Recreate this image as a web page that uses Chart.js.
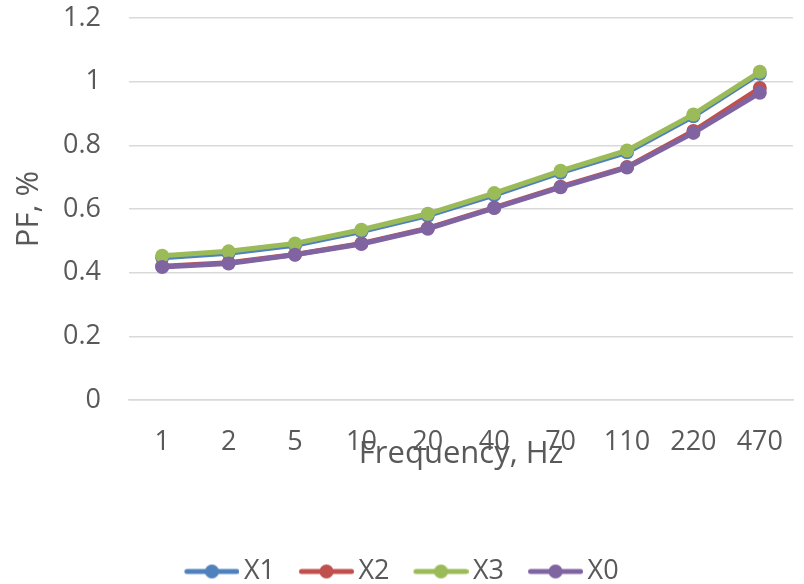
<!DOCTYPE html>
<html>
<head>
<meta charset="utf-8">
<script src="https://cdn.jsdelivr.net/npm/chart.js@4.4.1/dist/chart.umd.min.js"></script>
<style>
  html, body { margin: 0; padding: 0; background: #ffffff; }
  #wrap { width: 804px; height: 584px; }
</style>
</head>
<body>
<div id="wrap"><canvas id="c" width="804" height="584"></canvas></div>
<script>
// Frequency categories (Hz)
const frequencies = ['1', '2', '5', '10', '20', '40', '70', '110', '220', '470'];

// Power factor per configuration
const seriesX1 = [0.447, 0.461, 0.486, 0.529, 0.579, 0.644, 0.714, 0.778, 0.891, 1.025];
const seriesX2 = [0.420, 0.431, 0.457, 0.492, 0.540, 0.604, 0.670, 0.732, 0.845, 0.980];
const seriesX3 = [0.453, 0.467, 0.492, 0.535, 0.585, 0.650, 0.720, 0.784, 0.897, 1.031];
const seriesX0 = [0.418, 0.429, 0.456, 0.490, 0.538, 0.603, 0.668, 0.730, 0.839, 0.965];

// Value axis ticks
const yTicks = [0, 0.2, 0.4, 0.6, 0.8, 1, 1.2];

const seriesNames = ['X1', 'X2', 'X3', 'X0'];
const seriesColors = ['#4F81BD', '#C0504D', '#9BBB59', '#8064A2'];
const seriesValues = [seriesX1, seriesX2, seriesX3, seriesX0];

const FONT = "'Open Sans', sans-serif";
const TEXT = '#595959';

// legend marker: short line with a dot in the middle, drawn at the right of a wider canvas
function legendMarker(color) {
  const cv = document.createElement('canvas');
  cv.width = 74; cv.height = 16;
  const g = cv.getContext('2d');
  g.strokeStyle = color;
  g.lineWidth = 5;
  g.lineCap = 'round';
  g.beginPath(); g.moveTo(21.5, 8); g.lineTo(71.5, 8); g.stroke();
  g.fillStyle = color;
  g.beginPath(); g.arc(46.5, 8, 7, 0, Math.PI * 2); g.fill();
  return cv;
}

const datasets = seriesNames.map((name, i) => ({
  label: name,
  data: seriesValues[i],
  borderColor: seriesColors[i],
  backgroundColor: seriesColors[i],
  borderWidth: 5,
  pointRadius: 7,
  pointHoverRadius: 7,
  pointBorderWidth: 0,
  tension: 0,
  order: seriesNames.length - i
}));

new Chart(document.getElementById('c'), {
  type: 'line',
  data: { labels: frequencies, datasets },
  options: {
    responsive: false,
    animation: false,
    layout: { padding: { left: 0, right: 11, top: 18, bottom: -11 } },
    plugins: {
      tooltip: { enabled: false },
      legend: {
        position: 'bottom',
        labels: {
          usePointStyle: true,
          pointStyleWidth: 56,
          padding: 14,
          color: TEXT,
          font: { family: FONT, size: 27 },
          generateLabels(chart) {
            return chart.data.datasets.map((ds, i) => ({
              text: ds.label,
              fontColor: TEXT,
              pointStyle: legendMarker(ds.borderColor),
              fillStyle: ds.borderColor,
              strokeStyle: ds.borderColor,
              lineWidth: 0,
              hidden: false,
              datasetIndex: i
            }));
          }
        }
      }
    },
    scales: {
      x: {
        offset: true,
        grid: { display: false, drawTicks: false },
        border: { display: true, color: '#D9D9D9', width: 1.5 },
        ticks: { color: TEXT, font: { family: FONT, size: 27 }, padding: 26, maxRotation: 0, autoSkip: false },
        title: {
          display: true,
          text: 'Frequency, Hz',
          color: TEXT,
          font: { family: FONT, size: 31 },
          padding: { top: 0, bottom: 71 }
        },
        afterFit(scale) { scale.height = 144; scale.paddingLeft = 0; scale.paddingRight = 0; }
      },
      y: {
        min: 0,
        max: 1.2,
        afterBuildTicks(scale) { scale.ticks = yTicks.map(v => ({ value: v })); },
        grid: { color: '#D9D9D9', lineWidth: 1.5, drawTicks: false },
        border: { display: false },
        ticks: {
          color: TEXT,
          font: { family: FONT, size: 27 },
          padding: 28,
          callback: v => String(Math.round(v * 10) / 10)
        },
        title: {
          display: true,
          text: 'PF, %',
          color: TEXT,
          font: { family: FONT, size: 31 },
          padding: { top: 11, bottom: 0 }
        },
        afterFit(scale) { scale.width = 129; scale.paddingTop = 0; scale.paddingBottom = 0; }
      }
    }
  }
});
</script>
</body>
</html>
